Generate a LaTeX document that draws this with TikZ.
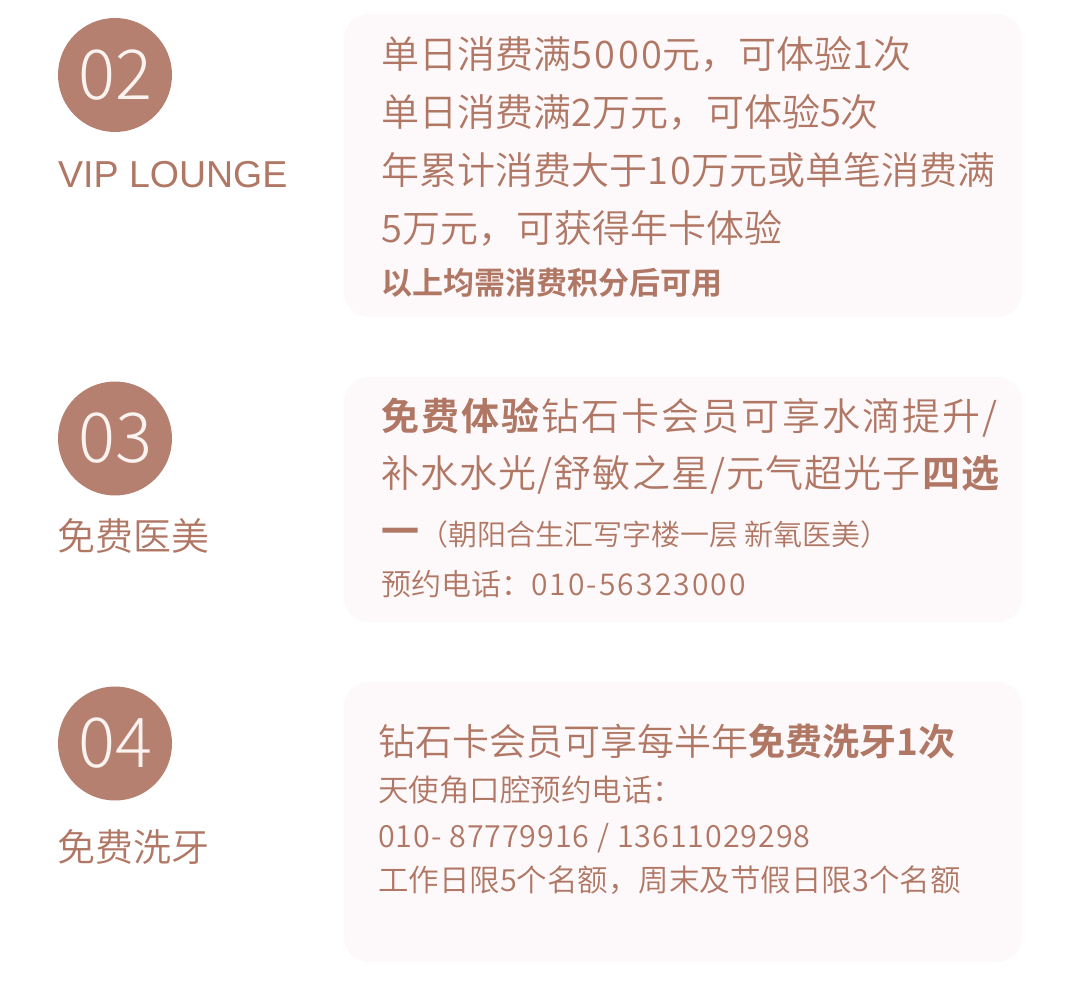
\documentclass[tikz,border=0pt]{standalone}
\usepackage{fontspec}
\IfFontExistsTF{Noto Sans CJK SC DemiLight}
	{\IfFontExistsTF{Noto Sans CJK SC Bold}
		{\setmainfont{Noto Sans CJK SC DemiLight}[BoldFont={Noto Sans CJK SC Bold}]
		 \newfontfamily\numfont{Noto Sans CJK SC DemiLight}[BoldFont={Noto Sans CJK SC Bold},LetterSpace=7]}
		{\setmainfont{Noto Sans CJK SC}
		 \newfontfamily\numfont[LetterSpace=7]{Noto Sans CJK SC}}}
	{\setmainfont{Noto Sans CJK SC}
	 \newfontfamily\numfont[LetterSpace=7]{Noto Sans CJK SC}}
\newfontfamily\latinfont{Liberation Sans}
\IfFontExistsTF{Noto Sans CJK SC Light}
	{\newfontfamily\thinfont{Noto Sans CJK SC Light}\def\thinsize{69}}
	{\newfontfamily\thinfont{Liberation Sans}\def\thinsize{61}}
\usetikzlibrary{positioning}
\definecolor{roseBrown}{RGB}{181,128,112}
\definecolor{textBrown}{RGB}{176,119,101}
\definecolor{panelPink}{RGB}{253,249,250}
\definecolor{numWhite}{RGB}{250,243,239}
\newcommand{\nm}[1]{{\numfont #1}}
\newcommand{\fs}[1]{\fontsize{#1}{#1}\selectfont}
\tikzset{
	x=1pt, y=-1pt,
	num/.style={circle, fill=roseBrown, minimum size=114pt, inner sep=0pt,
		text=numWhite, font=\thinfont\fs{\thinsize}},
	tag/.style={anchor=base west, inner sep=0pt, text=textBrown, font=\fs{38}},
	panel/.style={rounded corners=25pt, fill=panelPink, inner sep=0pt, minimum width=678pt},
	txt/.style={anchor=base west, inner sep=0pt, text=textBrown, font=\fs{38}},
	smalltxt/.style={txt, font=\fs{30}}}

\begin{document}
\begin{tikzpicture}
		\fill[white] (0,0) rectangle (1080,987);
		\useasboundingbox (0,0) rectangle (1080,987);
		
		% left column
		\node[num] (c2) at (115,75) {02};
		\node[num] (c3) at (115,438.5) {03};
		\node[num] (c4) at (115,743.5) {04};
		\node[tag, font=\latinfont\fs{37.5}] (t2) at (58,188) {VIP LOUNGE};
		\node[tag] (t3) at (57,550) {免费医美};
		\node[tag] (t4) at (57,861) {免费洗牙};
		
		% panels
		\node[panel, minimum height=303pt] (p2) at (683,165.5) {};
		\node[panel, minimum height=245pt] (p3) at (683,499.5) {};
		\node[panel, minimum height=280pt] (p4) at (683,822) {};
		
		\node[txt] (l21) at (381,69) {单日消费满\nm{5000}元，可体验\nm{1}次};
		\node[txt] (l22) at (381,127) {单日消费满\nm{2}万元，可体验\nm{5}次};
		\node[txt] (l23) at (381,185) {年累计消费大于\nm{10}万元或单笔消费满};
		\node[txt] (l24) at (381,243) {\nm{5}万元，可获得年卡体验};
		\node[smalltxt, font=\fs{31}\bfseries] (l25) at (381,295) {以上均需消费积分后可用};
		
		\node[txt] (l31) at (381,430) {\addfontfeatures{LetterSpace=5.5}\textbf{免费体验}钻石卡会员可享水滴提升/};
		\node[txt] (l32) at (381,487) {\addfontfeatures{LetterSpace=3}补水水光/舒敏之星/元气超光子\textbf{四选}};
		\node[txt] (l33) at (381,545) {\textbf{一}{\fs{29}（朝阳合生汇写字楼一层 新氧医美）}};
		\node[smalltxt] (l34) at (381,595) {预约电话：\nm{010-56323000}};
		
		\node[txt, font=\fs{37}] (l41) at (378,755) {钻石卡会员可享每半年\textbf{免费洗牙\nm{1}次}};
		\node[smalltxt, font=\fs{30.5}] (l42) at (378,801) {天使角口腔预约电话：};
		\node[smalltxt, font=\fs{30.5}] (l43) at (378,847) {\addfontfeatures{LetterSpace=3}010- 87779916 / 13611029298};
		\node[smalltxt, font=\fs{30.5}] (l44) at (378,891) {工作日限\nm{5}个名额，周末及节假日限\nm{3}个名额};
	\end{tikzpicture}
\end{document}
